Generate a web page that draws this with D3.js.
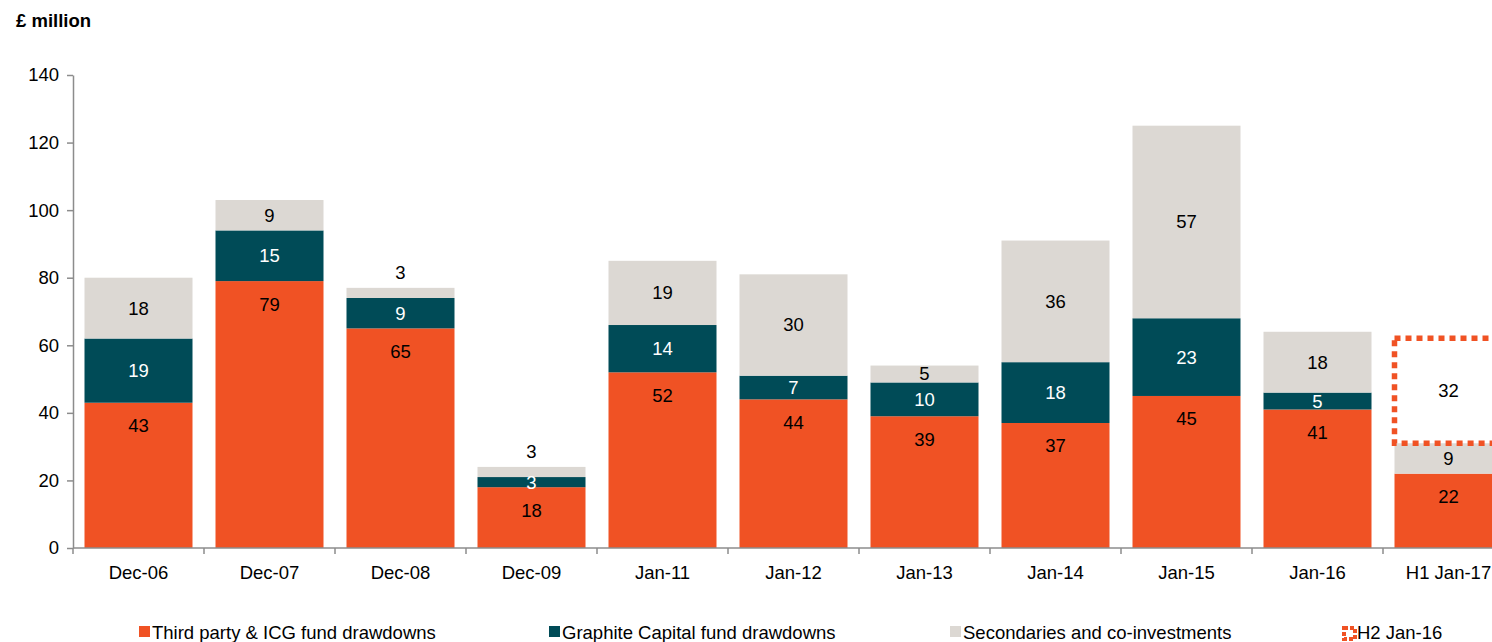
<!DOCTYPE html>
<html>
<head>
<meta charset="utf-8">
<script src="https://cdn.jsdelivr.net/npm/d3@7/dist/d3.min.js"></script>
<style>
  html, body { margin: 0; padding: 0; background: #fff; }
  svg { display: block; font-family: "Liberation Sans", Arial, sans-serif; }
</style>
</head>
<body>
<svg id="chart" width="1492" height="642"></svg>
<script>
// Drawdown figures, £ million
const categories = ["Dec-06", "Dec-07", "Dec-08", "Dec-09", "Jan-11", "Jan-12", "Jan-13", "Jan-14", "Jan-15", "Jan-16", "H1 Jan-17"];
const thirdParty = [43, 79, 65, 18, 52, 44, 39, 37, 45, 41, 22];
const graphite   = [19, 15, 9, 3, 14, 7, 10, 18, 23, 5, 0];
const secondaries = [18, 9, 3, 3, 19, 30, 5, 36, 57, 18, 9];
const h2Forecast = [null, null, null, null, null, null, null, null, null, null, 32];
const yTicks = [0, 20, 40, 60, 80, 100, 120, 140];
const seriesNames = ["Third party & ICG fund drawdowns", "Graphite Capital fund drawdowns", "Secondaries and co-investments", "H2 Jan-16"];

const colors = { third: "#F05224", graphite: "#004B57", secondaries: "#DCD8D3", axis: "#8C8C8C" };

const svg = d3.select("#chart");
const plotLeft = 73, plotBottom = 548, plotTop = 75;
const step = 131;
const fs = 18.5;

const x = d3.scaleBand()
  .domain(categories)
  .range([plotLeft, plotLeft + step * categories.length])
  .paddingInner(0.1756)
  .paddingOuter(0.0878);

const y = d3.scaleLinear().domain([0, 140]).range([plotBottom, plotTop]);

// Stack the three series
const rows = categories.map((c, i) => ({ cat: c, third: thirdParty[i], graphite: graphite[i], secondaries: secondaries[i] }));
const keys = ["third", "graphite", "secondaries"];
const stacked = d3.stack().keys(keys)(rows);

// Title
svg.append("text").attr("x", 16).attr("y", 27)
  .attr("font-size", 18.5).attr("font-weight", "bold").attr("fill", "#000")
  .text("£ million");

// Bars
const layers = svg.append("g").selectAll("g").data(stacked).join("g")
  .attr("fill", d => colors[d.key]);
layers.selectAll("rect").data(d => d.map(s => ({ s, key: d.key })))
  .join("rect")
  .attr("x", d => x(d.s.data.cat))
  .attr("width", x.bandwidth())
  .attr("y", d => y(d.s[1]))
  .attr("height", d => y(d.s[0]) - y(d.s[1]));

// H2 dashed outline sitting on top of the H1 bar
const h2 = categories.map((c, i) => ({ cat: c, base: thirdParty[i] + graphite[i] + secondaries[i], v: h2Forecast[i] }))
  .filter(d => d.v != null);
svg.append("g").selectAll("rect").data(h2).join("rect")
  .attr("x", d => x(d.cat))
  .attr("y", d => y(d.base + d.v) + 3)
  .attr("width", x.bandwidth())
  .attr("height", d => y(d.base) - y(d.base + d.v) - 3)
  .attr("fill", "none")
  .attr("stroke", colors.third)
  .attr("stroke-width", 5.5)
  .attr("stroke-dasharray", "6 5");

// Axes
const yAxis = svg.append("g").attr("transform", `translate(${plotLeft},0)`)
  .call(d3.axisLeft(y).tickValues(yTicks).tickSize(6).tickSizeOuter(0));
yAxis.selectAll("text").attr("font-size", fs).attr("fill", "#000")
  .attr("font-family", "Liberation Sans, Arial, sans-serif").attr("x", -14);
yAxis.selectAll("line, path").attr("stroke", colors.axis).attr("stroke-width", 1.5);

const xAxisG = svg.append("g").attr("transform", `translate(0,${plotBottom})`);
xAxisG.append("line").attr("x1", plotLeft).attr("x2", 1492).attr("y1", 0).attr("y2", 0)
  .attr("stroke", colors.axis).attr("stroke-width", 1.5);
const boundaries = d3.range(categories.length + 1).map(i => plotLeft + i * step);
xAxisG.selectAll("line.tick").data(boundaries).join("line").attr("class", "tick")
  .attr("x1", d => d).attr("x2", d => d).attr("y1", 0).attr("y2", 6)
  .attr("stroke", colors.axis).attr("stroke-width", 1.5);
xAxisG.selectAll("text").data(categories).join("text")
  .attr("x", d => x(d) + x.bandwidth() / 2)
  .attr("y", 31)
  .attr("text-anchor", "middle").attr("font-size", fs).attr("fill", "#000")
  .text(d => d);

// Value labels
const labels = [];
stacked.forEach(layer => {
  layer.forEach(s => {
    const v = s[1] - s[0];
    if (!v) return;
    const top = y(s[1]), bot = y(s[0]);
    const cx = x(s.data.cat) + x.bandwidth() / 2;
    let cy, fill = "#000";
    if (layer.key === "third") {
      cy = top + 23;
    } else if (layer.key === "graphite") {
      cy = (top + bot) / 2; fill = "#fff";
    } else {
      cy = (bot - top) < 14 ? top - 15 : (top + bot) / 2;
    }
    labels.push({ cx, cy, fill, v });
  });
});
h2.forEach(d => {
  labels.push({ cx: x(d.cat) + x.bandwidth() / 2, cy: (y(d.base) + y(d.base + d.v)) / 2 + 1, fill: "#000", v: d.v });
});
svg.append("g").selectAll("text").data(labels).join("text")
  .attr("x", d => d.cx).attr("y", d => d.cy)
  .attr("dy", "0.35em")
  .attr("text-anchor", "middle").attr("font-size", fs).attr("fill", d => d.fill)
  .text(d => d.v);

// Legend
const legendX = [139, 549, 950, 1342];
const legend = svg.append("g");
const legendColors = [colors.third, colors.graphite, colors.secondaries];
seriesNames.forEach((name, i) => {
  const g = legend.append("g").attr("transform", `translate(${legendX[i]},626)`);
  if (i < 3) {
    g.append("rect").attr("width", 11).attr("height", 11).attr("fill", legendColors[i]);
  } else {
    g.append("rect").attr("x", 2).attr("y", 2).attr("width", 11).attr("height", 11)
      .attr("fill", "none").attr("stroke", colors.third).attr("stroke-width", 4)
      .attr("stroke-dasharray", "4 2");
  }
  g.append("text").attr("x", i < 3 ? 13 : 15).attr("y", 12.5)
    .attr("font-size", fs).attr("fill", "#000").text(name);
});
</script>
</body>
</html>
